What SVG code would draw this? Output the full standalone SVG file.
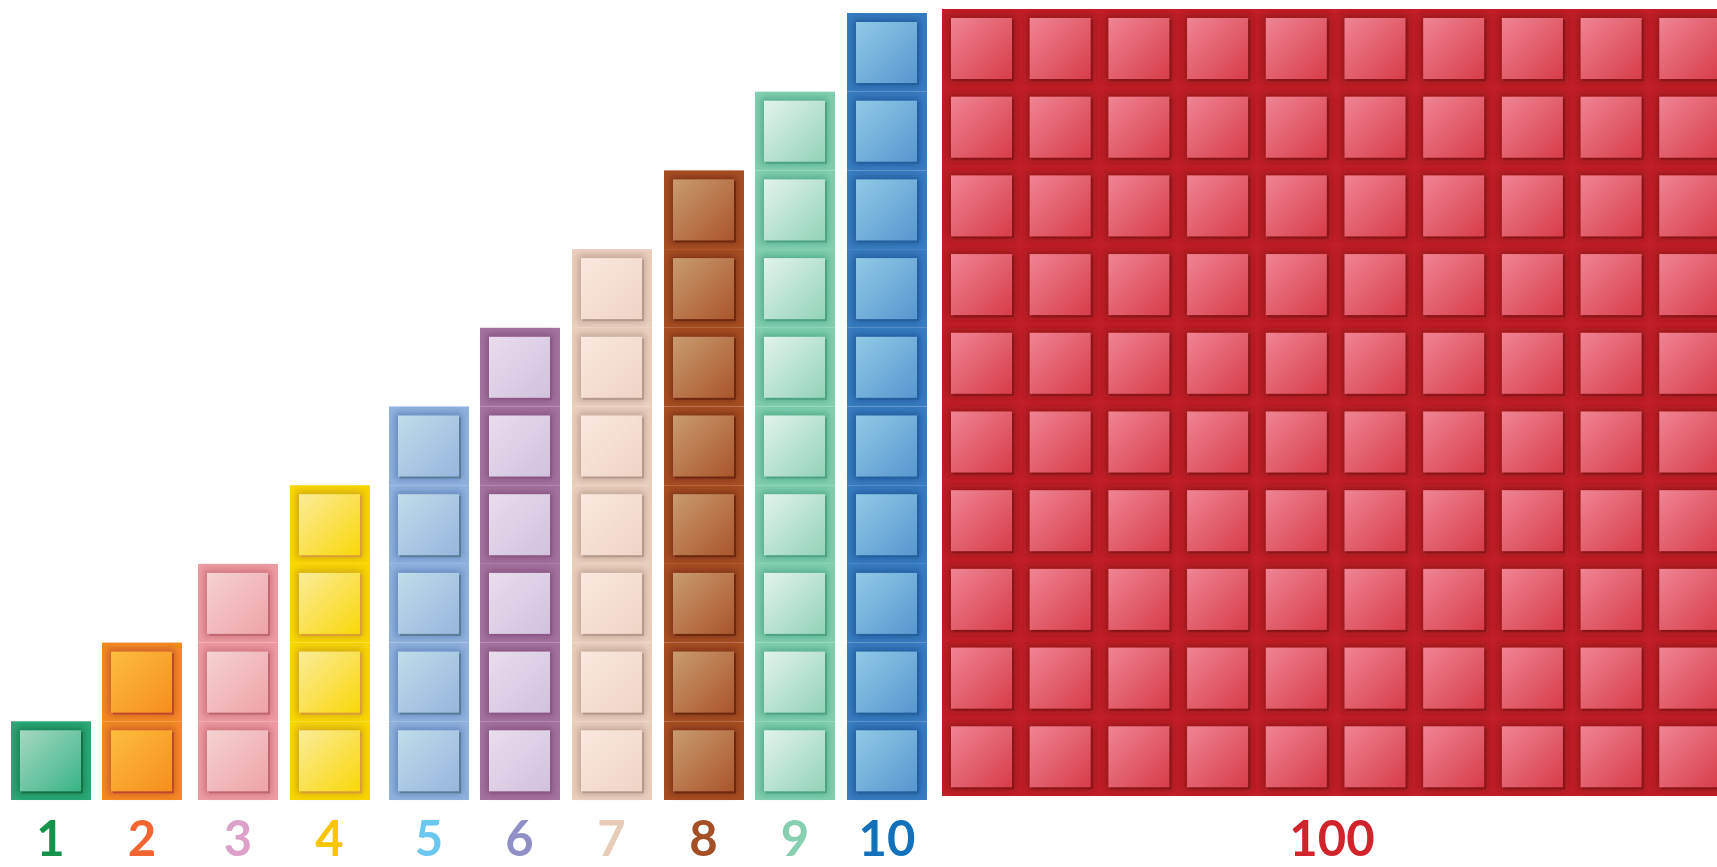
<svg xmlns="http://www.w3.org/2000/svg" xmlns:xlink="http://www.w3.org/1999/xlink" width="1717" height="867" viewBox="0 0 1717 867">
<style>
.lbl{font-family:Lato,"Open Sans","Liberation Sans",sans-serif;font-weight:700;font-size:49px;text-anchor:middle}
.glow{filter:url(#soft)}
</style>
<defs>
<filter id="soft" x="-30%" y="-30%" width="160%" height="160%"><feGaussianBlur stdDeviation="3.5"/></filter>
<linearGradient id="g-green" x1="0" y1="0" x2="1" y2="1"><stop offset="0" stop-color="#A6D8C2"/><stop offset="1" stop-color="#38B487"/></linearGradient>
<linearGradient id="g-orange" x1="0" y1="0" x2="1" y2="1"><stop offset="0" stop-color="#FDBD3E"/><stop offset="1" stop-color="#F58E1F"/></linearGradient>
<linearGradient id="g-pink" x1="0" y1="0" x2="1" y2="1"><stop offset="0" stop-color="#F5D2D2"/><stop offset="1" stop-color="#EEA3A7"/></linearGradient>
<linearGradient id="g-yellow" x1="0" y1="0" x2="1" y2="1"><stop offset="0" stop-color="#FBEC9A"/><stop offset="1" stop-color="#F9D808"/></linearGradient>
<linearGradient id="g-lblue" x1="0" y1="0" x2="1" y2="1"><stop offset="0" stop-color="#BFDDE9"/><stop offset="1" stop-color="#98B5DE"/></linearGradient>
<linearGradient id="g-purple" x1="0" y1="0" x2="1" y2="1"><stop offset="0" stop-color="#E9DDED"/><stop offset="1" stop-color="#D1C1DE"/></linearGradient>
<linearGradient id="g-beige" x1="0" y1="0" x2="1" y2="1"><stop offset="0" stop-color="#FBE8DE"/><stop offset="1" stop-color="#EFD4C5"/></linearGradient>
<linearGradient id="g-brown" x1="0" y1="0" x2="1" y2="1"><stop offset="0" stop-color="#C89C6E"/><stop offset="1" stop-color="#AA552B"/></linearGradient>
<linearGradient id="g-mint" x1="0" y1="0" x2="1" y2="1"><stop offset="0" stop-color="#E2F3EC"/><stop offset="1" stop-color="#92D3B8"/></linearGradient>
<linearGradient id="g-blue" x1="0" y1="0" x2="1" y2="1"><stop offset="0" stop-color="#90CAE6"/><stop offset="1" stop-color="#5896CF"/></linearGradient>
<linearGradient id="g-red" x1="0" y1="0" x2="1" y2="1"><stop offset="0" stop-color="#F08493"/><stop offset="1" stop-color="#D63D49"/></linearGradient>

<g id="c-green"><rect width="80" height="78.7" fill="#2CA878"/><rect class="glow" x="6" y="6" width="67" height="67" fill="#167A4E" opacity="0.85"/><rect x="11" y="11" width="61" height="61" fill="#137345"/><rect x="9" y="9" width="61" height="61" fill="url(#g-green)"/></g>
<g id="c-orange"><rect width="80" height="78.7" fill="#F28B22"/><rect class="glow" x="6" y="6" width="67" height="67" fill="#C4542A" opacity="0.8"/><rect x="11" y="11" width="61" height="61" fill="#BF4A2A"/><rect x="9" y="9" width="61" height="61" fill="url(#g-orange)"/></g>
<g id="c-pink"><rect width="80" height="78.7" fill="#EE9CA1"/><rect class="glow" x="6" y="6" width="67" height="67" fill="#C46872" opacity="0.8"/><rect x="11" y="11" width="61" height="61" fill="#C06771"/><rect x="9" y="9" width="61" height="61" fill="url(#g-pink)"/></g>
<g id="c-yellow"><rect width="80" height="78.7" fill="#F9D700"/><rect class="glow" x="6" y="6" width="67" height="67" fill="#C59A1E" opacity="0.75"/><rect x="11" y="11" width="61" height="61" fill="#DB9E34"/><rect x="9" y="9" width="61" height="61" fill="url(#g-yellow)"/></g>
<g id="c-lblue"><rect width="80" height="78.7" fill="#91B2DE"/><rect class="glow" x="6" y="6" width="67" height="67" fill="#5C7FB8" opacity="0.8"/><rect x="11" y="11" width="61" height="61" fill="#5A7D98"/><rect x="9" y="9" width="61" height="61" fill="url(#g-lblue)"/></g>
<g id="c-purple"><rect width="80" height="78.7" fill="#A4739F"/><rect class="glow" x="6" y="6" width="67" height="67" fill="#83507E" opacity="0.85"/><rect x="11" y="11" width="61" height="61" fill="#8D5888"/><rect x="9" y="9" width="61" height="61" fill="url(#g-purple)"/></g>
<g id="c-beige"><rect width="80" height="78.7" fill="#EBCFBE"/><rect class="glow" x="6" y="6" width="67" height="67" fill="#B89C8C" opacity="0.8"/><rect x="11" y="11" width="61" height="61" fill="#B59A8C"/><rect x="9" y="9" width="61" height="61" fill="url(#g-beige)"/></g>
<g id="c-brown"><rect width="80" height="78.7" fill="#A84F24"/><rect class="glow" x="6" y="6" width="67" height="67" fill="#7A2E12" opacity="0.85"/><rect x="11" y="11" width="61" height="61" fill="#6E2810"/><rect x="9" y="9" width="61" height="61" fill="url(#g-brown)"/></g>
<g id="c-mint"><rect width="80" height="78.7" fill="#82CFB0"/><rect class="glow" x="6" y="6" width="67" height="67" fill="#48A582" opacity="0.8"/><rect x="11" y="11" width="61" height="61" fill="#4FA385"/><rect x="9" y="9" width="61" height="61" fill="url(#g-mint)"/></g>
<g id="c-blue"><rect width="80" height="78.7" fill="#3A7DC1"/><rect class="glow" x="6" y="6" width="67" height="67" fill="#1D5697" opacity="0.85"/><rect x="11" y="11" width="61" height="61" fill="#245F9E"/><rect x="9" y="9" width="61" height="61" fill="url(#g-blue)"/></g>
<g id="c-red"><rect class="glow" x="6" y="6" width="67" height="67" fill="#8E1419" opacity="0.8"/><rect x="11" y="11" width="61" height="61" fill="#8A1418"/><rect x="9" y="9" width="61" height="61" fill="url(#g-red)"/></g>
<g id="red-row">
<use href="#c-red" x="0"/><use href="#c-red" x="78.7"/><use href="#c-red" x="157.4"/><use href="#c-red" x="236.1"/><use href="#c-red" x="314.8"/><use href="#c-red" x="393.5"/><use href="#c-red" x="472.2"/><use href="#c-red" x="550.9"/><use href="#c-red" x="629.6"/><use href="#c-red" x="708.3"/>
</g>
</defs>

<rect width="1717" height="867" fill="#FFFFFF"/>

<g id="tower-1">
<use href="#c-green" x="11" y="721.3"/>
</g>
<g id="tower-2">
<use href="#c-orange" x="102" y="721.3"/><use href="#c-orange" x="102" y="642.6"/>
</g>
<g id="tower-3">
<use href="#c-pink" x="198" y="721.3"/><use href="#c-pink" x="198" y="642.6"/><use href="#c-pink" x="198" y="563.9"/>
</g>
<g id="tower-4">
<use href="#c-yellow" x="290" y="721.3"/><use href="#c-yellow" x="290" y="642.6"/><use href="#c-yellow" x="290" y="563.9"/><use href="#c-yellow" x="290" y="485.2"/>
</g>
<g id="tower-5">
<use href="#c-lblue" x="389" y="721.3"/><use href="#c-lblue" x="389" y="642.6"/><use href="#c-lblue" x="389" y="563.9"/><use href="#c-lblue" x="389" y="485.2"/><use href="#c-lblue" x="389" y="406.5"/>
</g>
<g id="tower-6">
<use href="#c-purple" x="480" y="721.3"/><use href="#c-purple" x="480" y="642.6"/><use href="#c-purple" x="480" y="563.9"/><use href="#c-purple" x="480" y="485.2"/><use href="#c-purple" x="480" y="406.5"/><use href="#c-purple" x="480" y="327.8"/>
</g>
<g id="tower-7">
<use href="#c-beige" x="572" y="721.3"/><use href="#c-beige" x="572" y="642.6"/><use href="#c-beige" x="572" y="563.9"/><use href="#c-beige" x="572" y="485.2"/><use href="#c-beige" x="572" y="406.5"/><use href="#c-beige" x="572" y="327.8"/><use href="#c-beige" x="572" y="249.1"/>
</g>
<g id="tower-8">
<use href="#c-brown" x="664" y="721.3"/><use href="#c-brown" x="664" y="642.6"/><use href="#c-brown" x="664" y="563.9"/><use href="#c-brown" x="664" y="485.2"/><use href="#c-brown" x="664" y="406.5"/><use href="#c-brown" x="664" y="327.8"/><use href="#c-brown" x="664" y="249.1"/><use href="#c-brown" x="664" y="170.4"/>
</g>
<g id="tower-9">
<use href="#c-mint" x="755" y="721.3"/><use href="#c-mint" x="755" y="642.6"/><use href="#c-mint" x="755" y="563.9"/><use href="#c-mint" x="755" y="485.2"/><use href="#c-mint" x="755" y="406.5"/><use href="#c-mint" x="755" y="327.8"/><use href="#c-mint" x="755" y="249.1"/><use href="#c-mint" x="755" y="170.4"/><use href="#c-mint" x="755" y="91.7"/>
</g>
<g id="tower-10">
<use href="#c-blue" x="847" y="721.3"/><use href="#c-blue" x="847" y="642.6"/><use href="#c-blue" x="847" y="563.9"/><use href="#c-blue" x="847" y="485.2"/><use href="#c-blue" x="847" y="406.5"/><use href="#c-blue" x="847" y="327.8"/><use href="#c-blue" x="847" y="249.1"/><use href="#c-blue" x="847" y="170.4"/><use href="#c-blue" x="847" y="91.7"/><use href="#c-blue" x="847" y="13"/>
</g>
<g id="block-100">
<rect x="942" y="9" width="787" height="787" fill="#C11F29"/>
<use href="#red-row" x="942" y="9"/><use href="#red-row" x="942" y="87.7"/><use href="#red-row" x="942" y="166.4"/><use href="#red-row" x="942" y="245.1"/><use href="#red-row" x="942" y="323.8"/><use href="#red-row" x="942" y="402.5"/><use href="#red-row" x="942" y="481.2"/><use href="#red-row" x="942" y="559.9"/><use href="#red-row" x="942" y="638.6"/><use href="#red-row" x="942" y="717.3"/>
</g>

<g id="labels">
<text class="lbl" x="50.5" y="856" fill="#15934A">1</text>
<text class="lbl" x="142" y="856" fill="#F26531">2</text>
<text class="lbl" x="238" y="856" fill="#DCA1C9">3</text>
<text class="lbl" x="329.5" y="856" fill="#F8C600">4</text>
<text class="lbl" x="429" y="856" fill="#6BC8F0">5</text>
<text class="lbl" x="519.5" y="856" fill="#9190C6">6</text>
<text class="lbl" x="611.5" y="856" fill="#E7CCB9">7</text>
<text class="lbl" x="703.5" y="856" fill="#A54F26">8</text>
<text class="lbl" x="795" y="856" fill="#86CFB1">9</text>
<text class="lbl" x="887" y="856" fill="#1271BA">10</text>
<text class="lbl" x="1332" y="856" fill="#D0232C">100</text>
</g>
</svg>
